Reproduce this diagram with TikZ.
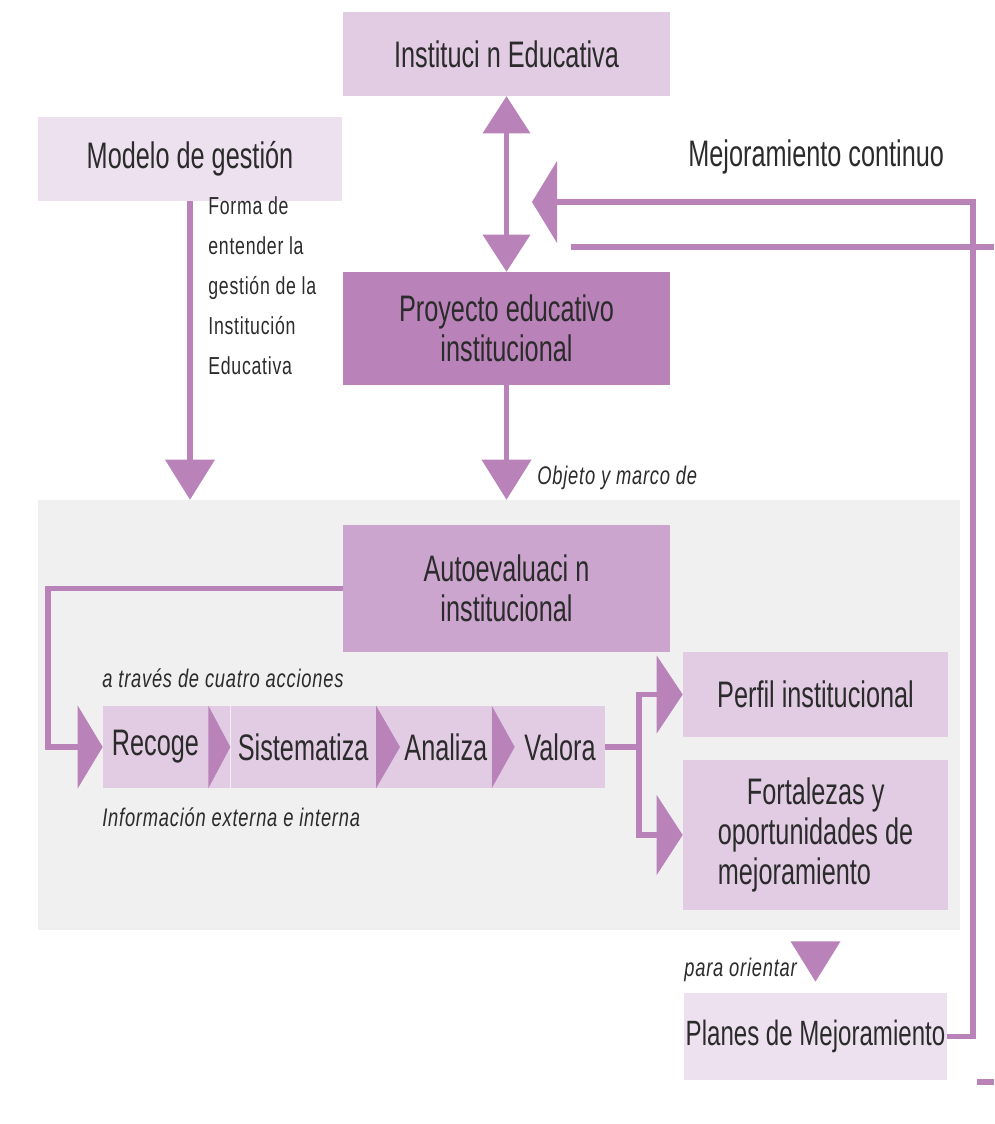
\documentclass[tikz,border=0pt]{standalone}
\usepackage{fontspec}
\setmainfont[FakeStretch=0.685]{Liberation Sans}
\newfontfamily\chica[FakeStretch=0.72,LetterSpace=3]{Liberation Sans}
\usepackage{tikz}
\usetikzlibrary{calc,positioning,arrows.meta}
\definecolor{flujocolor}{HTML}{B983B9}
\definecolor{lilacolor}{HTML}{E1CCE3}
\definecolor{palidocolor}{HTML}{EDE1EF}
\definecolor{autocolor}{HTML}{CCA5CE}
\definecolor{panelcolor}{HTML}{F0F0F0}
\definecolor{textocolor}{HTML}{2B2B2B}

\begin{document}
\begin{tikzpicture}[x=0.02cm, y=-0.02cm,
    every node/.style={text=textocolor, font=\fontsize{21}{22.8}\selectfont},
    caja/.style={rectangle, inner sep=0pt, align=center},
    paso/.style={caja, fill=lilacolor, minimum height=1.64cm},
    etiqueta/.style={inner sep=0pt, anchor=west, font=\chica\itshape\fontsize{14.5}{16}\selectfont},
    flujo/.style={draw=flujocolor, line width=3.4pt},
    bajada/.style={-{Triangle[length=0.8cm, width=1cm, line width=0pt]}},
    lateral/.style={-{Triangle[length=0.52cm, width=#1, line width=0pt]}},
    lateral/.default=1.56cm]
    \useasboundingbox (0,0) rectangle (994,1124);

    % Panel de autoevaluacion (fondo gris)
    \node[caja, fill=panelcolor, minimum width=18.44cm, minimum height=8.6cm] (panel) at (499,715) {};

    % Cajas superiores
    \node[caja, fill=lilacolor, minimum width=6.54cm, minimum height=1.68cm] (inst) at (506.5,54) {Instituci n Educativa};
    \node[caja, fill=palidocolor, minimum width=6.08cm, minimum height=1.68cm] (modelo) at (190,159) {Modelo de gestión};
    \node[caja, fill=flujocolor, minimum width=6.54cm, minimum height=2.26cm] (pei) at (506.5,328.5) {Proyecto educativo\\institucional};
    \node[caja, fill=autocolor, minimum width=6.54cm, minimum height=2.54cm] (autoev) at (506.5,588.5) {Autoevaluaci n\\institucional};

    % Cuatro acciones
    \node[paso, minimum width=2.1cm] (recoge) at (155.5,747) {Recoge};
    \node[paso, minimum width=2.9cm, right=0.44cm of recoge] (siste) {Sistematiza};
    \node[paso, minimum width=1.82cm, right=0.48cm of siste] (analiza) {Analiza};
    \node[paso, minimum width=1.8cm, right=0.46cm of analiza] (valora) {Valora};
    \foreach \a/\b in {recoge/siste, siste/analiza, analiza/valora} {
        \fill[lilacolor] (\a.north east) rectangle (\b.south west);
        \fill[flujocolor] (\a.north east) -- (\b.west) -- (\a.south east) -- cycle;
    }

    % Resultados
    \node[caja, fill=lilacolor, minimum width=5.3cm, minimum height=1.7cm] (perfil) at (815.5,694.5) {Perfil institucional};
    \node[caja, fill=lilacolor, minimum width=5.3cm, minimum height=3cm, align=left] (fort) at (815.5,835) {\hspace*{0.58cm}Fortalezas y\\oportunidades de\\mejoramiento};
    \node[caja, fill=palidocolor, minimum width=5.26cm, minimum height=1.74cm, font=\fontsize{20}{22}\selectfont] (planes) at (815.5,1036.5) {Planes de Mejoramiento};

    % Textos sueltos
    \node[inner sep=0pt, anchor=west] (mejora) at (688,157) {Mejoramiento continuo};
    \node[inner sep=0pt, anchor=north west, align=left, font=\chica\fontsize{14}{22.8}\selectfont] (forma) at (208,196) {Forma de\\entender la\\gestión de la\\Institución\\Educativa};
    \node[etiqueta] (objeto) at (537,478) {Objeto y marco de};
    \node[etiqueta] (acciones) at (102,678) {a través de cuatro acciones};
    \node[etiqueta] (info) at (102,817) {Información externa e interna};
    \node[etiqueta] (orientar) at (684,970) {para orientar};

    % Conectores
    \draw[flujo, {Triangle[length=0.74cm, width=0.96cm, line width=0pt]}-{Triangle[length=0.74cm, width=0.96cm, line width=0pt]}] (inst.south) -- (pei.north);
    \draw[flujo, bajada] (modelo.south) -- (modelo.south |- panel.north);
    \draw[flujo, bajada] (pei.south) -- (pei.south |- panel.north);
    \draw[flujo, -{Triangle[length=0.5cm, width=1.66cm, line width=0pt]}] (autoev.west) -- ++(-295,0) |- (recoge.west);
    \draw[flujo, lateral] (valora.east) -- ++(34,0) |- (perfil.west);
    \draw[flujo, lateral=1.6cm] (valora.east) -- ++(34,0) |- (fort.west);
    \fill[flujocolor] ($(fort.south)+(-25,31)$) -- ($(fort.south)+(25,31)$) -- ($(planes.north)+(0,-11)$) -- cycle;

    % Mejoramiento continuo (retorno)
    \coordinate (retorno) at (532,202);
    \draw[flujo, -{Triangle[length=0.5cm, width=1.64cm, line width=0pt]}] (planes.east) -- ++(26,0) |- (retorno);
    \coordinate (fugaA) at (571,247);
    \coordinate (fugaB) at (994,247);
    \draw[flujo] (fugaA) -- (fugaB);
    \coordinate (fugaC) at (977,1082);
    \coordinate (fugaD) at (994,1082);
    \draw[flujo] (fugaC) -- (fugaD);
\end{tikzpicture}
\end{document}
